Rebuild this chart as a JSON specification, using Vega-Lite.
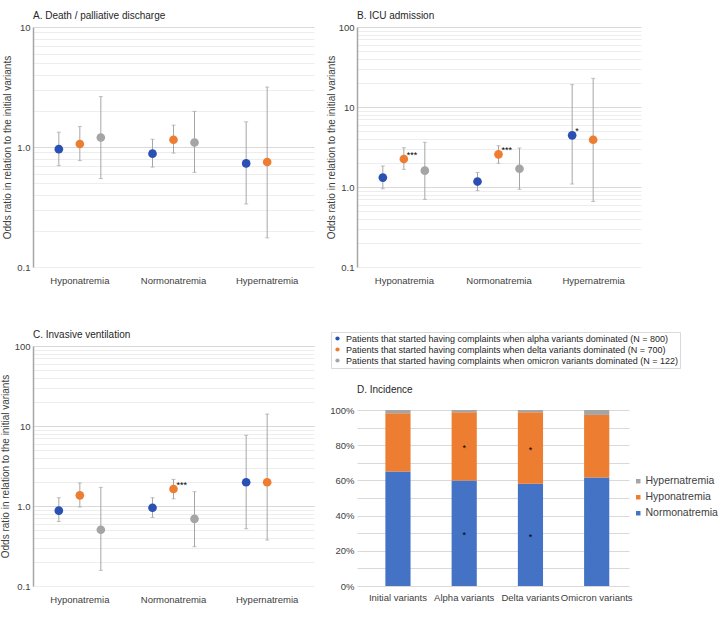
{
  "$schema": "https://vega.github.io/schema/vega-lite/v6.json",
  "padding": {"left": 0, "top": 11, "right": 5, "bottom": 5},
  "background": "white",
  "config": {
    "font": "Liberation Sans",
    "view": {"stroke": null},
    "title": {"fontSize": 10, "fontWeight": "normal", "color": "#262626", "anchor": "start", "frame": "group", "offset": 1},
    "axis": {"labelColor": "#404040", "titleColor": "#404040", "titleFontWeight": "normal"}
  },
  "datasets": {
    "odds": [
      {"panel": "A", "cat": "Hyponatremia", "variant": "alpha", "or": 0.96, "lo": 0.70, "hi": 1.33, "sig": null},
      {"panel": "A", "cat": "Hyponatremia", "variant": "delta", "or": 1.06, "lo": 0.77, "hi": 1.48, "sig": null},
      {"panel": "A", "cat": "Hyponatremia", "variant": "omicron", "or": 1.20, "lo": 0.545, "hi": 2.63, "sig": null},
      {"panel": "A", "cat": "Normonatremia", "variant": "alpha", "or": 0.88, "lo": 0.68, "hi": 1.16, "sig": null},
      {"panel": "A", "cat": "Normonatremia", "variant": "delta", "or": 1.15, "lo": 0.89, "hi": 1.52, "sig": null},
      {"panel": "A", "cat": "Normonatremia", "variant": "omicron", "or": 1.09, "lo": 0.615, "hi": 1.98, "sig": null},
      {"panel": "A", "cat": "Hypernatremia", "variant": "alpha", "or": 0.73, "lo": 0.335, "hi": 1.62, "sig": null},
      {"panel": "A", "cat": "Hypernatremia", "variant": "delta", "or": 0.75, "lo": 0.175, "hi": 3.16, "sig": null},
      {"panel": "B", "cat": "Hyponatremia", "variant": "alpha", "or": 1.31, "lo": 0.95, "hi": 1.83, "sig": null},
      {"panel": "B", "cat": "Hyponatremia", "variant": "delta", "or": 2.24, "lo": 1.66, "hi": 3.10, "sig": "***"},
      {"panel": "B", "cat": "Hyponatremia", "variant": "omicron", "or": 1.60, "lo": 0.70, "hi": 3.62, "sig": null},
      {"panel": "B", "cat": "Normonatremia", "variant": "alpha", "or": 1.17, "lo": 0.90, "hi": 1.52, "sig": null},
      {"panel": "B", "cat": "Normonatremia", "variant": "delta", "or": 2.56, "lo": 1.98, "hi": 3.28, "sig": "***"},
      {"panel": "B", "cat": "Normonatremia", "variant": "omicron", "or": 1.69, "lo": 0.935, "hi": 3.07, "sig": null},
      {"panel": "B", "cat": "Hypernatremia", "variant": "alpha", "or": 4.42, "lo": 1.09, "hi": 19.0, "sig": "*"},
      {"panel": "B", "cat": "Hypernatremia", "variant": "delta", "or": 3.90, "lo": 0.66, "hi": 22.8, "sig": null},
      {"panel": "C", "cat": "Hyponatremia", "variant": "alpha", "or": 0.875, "lo": 0.64, "hi": 1.27, "sig": null},
      {"panel": "C", "cat": "Hyponatremia", "variant": "delta", "or": 1.36, "lo": 0.97, "hi": 1.94, "sig": null},
      {"panel": "C", "cat": "Hyponatremia", "variant": "omicron", "or": 0.505, "lo": 0.157, "hi": 1.71, "sig": null},
      {"panel": "C", "cat": "Normonatremia", "variant": "alpha", "or": 0.95, "lo": 0.72, "hi": 1.27, "sig": null},
      {"panel": "C", "cat": "Normonatremia", "variant": "delta", "or": 1.63, "lo": 1.23, "hi": 2.15, "sig": "***"},
      {"panel": "C", "cat": "Normonatremia", "variant": "omicron", "or": 0.69, "lo": 0.31, "hi": 1.51, "sig": null},
      {"panel": "C", "cat": "Hypernatremia", "variant": "alpha", "or": 1.98, "lo": 0.52, "hi": 7.65, "sig": null},
      {"panel": "C", "cat": "Hypernatremia", "variant": "delta", "or": 1.98, "lo": 0.376, "hi": 14.1, "sig": null}
    ],
    "incidence": [
      {"period": "Initial variants", "status": "Normonatremia", "ord": 1, "pct": 0.651, "sig": null},
      {"period": "Initial variants", "status": "Hyponatremia", "ord": 2, "pct": 0.330, "sig": null},
      {"period": "Initial variants", "status": "Hypernatremia", "ord": 3, "pct": 0.019, "sig": null},
      {"period": "Alpha variants", "status": "Normonatremia", "ord": 1, "pct": 0.600, "sig": "*"},
      {"period": "Alpha variants", "status": "Hyponatremia", "ord": 2, "pct": 0.387, "sig": "*"},
      {"period": "Alpha variants", "status": "Hypernatremia", "ord": 3, "pct": 0.013, "sig": null},
      {"period": "Delta variants", "status": "Normonatremia", "ord": 1, "pct": 0.581, "sig": "*"},
      {"period": "Delta variants", "status": "Hyponatremia", "ord": 2, "pct": 0.406, "sig": "*"},
      {"period": "Delta variants", "status": "Hypernatremia", "ord": 3, "pct": 0.013, "sig": null},
      {"period": "Omicron variants", "status": "Normonatremia", "ord": 1, "pct": 0.617, "sig": null},
      {"period": "Omicron variants", "status": "Hyponatremia", "ord": 2, "pct": 0.355, "sig": null},
      {"period": "Omicron variants", "status": "Hypernatremia", "ord": 3, "pct": 0.028, "sig": null}
    ]
  },
  "resolve": {"scale": {"color": "independent"}, "legend": {"color": "independent"}},
  "spacing": 12,
  "hconcat": [
    {
      "resolve": {"scale": {"color": "independent"}, "legend": {"color": "independent"}},
      "spacing": 45,
      "vconcat": [
        {
          "title": {"text": "A. Death / palliative discharge"},
          "width": 281, "height": 240,
          "data": {"name": "odds"},
          "transform": [{"filter": "datum.panel == 'A'"}],
          "encoding": {
            "x": {"field": "cat", "type": "nominal", "sort": ["Hyponatremia", "Normonatremia", "Hypernatremia"], "scale": {"paddingInner": 0, "paddingOuter": 0}, "axis": {"title": null, "labelAngle": 0, "domain": false, "ticks": false, "labelFontSize": 9.5, "labelPadding": 8}},
            "xOffset": {"field": "variant", "type": "nominal", "scale": {"domain": ["alpha", "delta", "omicron"], "paddingInner": 0, "paddingOuter": 0.73}}
          },
          "layer": [
            {"mark": {"type": "rule", "color": "#a6a6a6", "strokeWidth": 1},
             "encoding": {
               "y": {"field": "lo", "type": "quantitative", "scale": {"type": "log", "domain": [0.1, 10]},
                 "axis": {"title": "Odds ratio in relation to the initial variants", "titleFontSize": 10, "titlePadding": 4,
                   "values": [0.1, 0.2, 0.3, 0.4, 0.5, 0.6, 0.7, 0.8, 0.9, 1, 2, 3, 4, 5, 6, 7, 8, 9, 10],
                   "labelExpr": "datum.value == 0.1 ? '0.1' : datum.value == 1 ? '1.0' : datum.value == 10 ? '10' : datum.value == 100 ? '100' : ''",
                   "labelOverlap": false, "labelFontSize": 9.5, "labelPadding": 3, "ticks": false,
                   "domainColor": "#a6a6a6", "domainWidth": 1.5,
                   "gridColor": {"condition": {"test": "datum.value == 1 || datum.value == 10", "value": "#d9d9d9"}, "value": "#ededed"}}},
               "y2": {"field": "hi"}}},
            {"mark": {"type": "tick", "color": "#a6a6a6", "size": 4, "thickness": 1}, "encoding": {"y": {"field": "lo", "type": "quantitative"}}},
            {"mark": {"type": "tick", "color": "#a6a6a6", "size": 4, "thickness": 1}, "encoding": {"y": {"field": "hi", "type": "quantitative"}}},
            {"mark": {"type": "circle", "size": 75, "opacity": 1},
             "encoding": {"y": {"field": "or", "type": "quantitative"},
               "color": {"field": "variant", "type": "nominal", "scale": {"domain": ["alpha", "delta", "omicron"], "range": ["#2b50b4", "#ed7d31", "#a5a5a5"]}, "legend": null}}}
          ]
        },
        {
          "title": {"text": "C. Invasive ventilation"},
          "width": 281, "height": 240,
          "data": {"name": "odds"},
          "transform": [{"filter": "datum.panel == 'C'"}],
          "encoding": {
            "x": {"field": "cat", "type": "nominal", "sort": ["Hyponatremia", "Normonatremia", "Hypernatremia"], "scale": {"paddingInner": 0, "paddingOuter": 0}, "axis": {"title": null, "labelAngle": 0, "domain": false, "ticks": false, "labelFontSize": 9.5, "labelPadding": 8}},
            "xOffset": {"field": "variant", "type": "nominal", "scale": {"domain": ["alpha", "delta", "omicron"], "paddingInner": 0, "paddingOuter": 0.73}}
          },
          "layer": [
            {"mark": {"type": "rule", "color": "#a6a6a6", "strokeWidth": 1},
             "encoding": {
               "y": {"field": "lo", "type": "quantitative", "scale": {"type": "log", "domain": [0.1, 100]},
                 "axis": {"title": "Odds ratio in relation to the initial variants", "titleFontSize": 10, "titlePadding": 4,
                   "values": [0.1, 0.2, 0.3, 0.4, 0.5, 0.6, 0.7, 0.8, 0.9, 1, 2, 3, 4, 5, 6, 7, 8, 9, 10, 20, 30, 40, 50, 60, 70, 80, 90, 100],
                   "labelExpr": "datum.value == 0.1 ? '0.1' : datum.value == 1 ? '1.0' : datum.value == 10 ? '10' : datum.value == 100 ? '100' : ''",
                   "labelOverlap": false, "labelFontSize": 9.5, "labelPadding": 3, "ticks": false,
                   "domainColor": "#a6a6a6", "domainWidth": 1.5,
                   "gridColor": {"condition": {"test": "datum.value == 1 || datum.value == 10 || datum.value == 100", "value": "#d9d9d9"}, "value": "#ededed"}}},
               "y2": {"field": "hi"}}},
            {"mark": {"type": "tick", "color": "#a6a6a6", "size": 4, "thickness": 1}, "encoding": {"y": {"field": "lo", "type": "quantitative"}}},
            {"mark": {"type": "tick", "color": "#a6a6a6", "size": 4, "thickness": 1}, "encoding": {"y": {"field": "hi", "type": "quantitative"}}},
            {"mark": {"type": "circle", "size": 75, "opacity": 1},
             "encoding": {"y": {"field": "or", "type": "quantitative"},
               "color": {"field": "variant", "type": "nominal", "scale": {"domain": ["alpha", "delta", "omicron"], "range": ["#2b50b4", "#ed7d31", "#a5a5a5"]}, "legend": null}}},
            {"transform": [{"filter": "datum.sig != null"}],
             "mark": {"type": "text", "align": "left", "baseline": "middle", "dx": 3, "dy": -4, "fontSize": 9, "color": "#000000"},
             "encoding": {"y": {"field": "or", "type": "quantitative"}, "text": {"field": "sig"}}}
          ]
        }
      ]
    },
    {
      "resolve": {"scale": {"color": "independent"}, "legend": {"color": "independent"}},
      "spacing": 16,
      "vconcat": [
        {
          "title": {"text": "B. ICU admission"},
          "width": 284, "height": 240,
          "data": {"name": "odds"},
          "transform": [{"filter": "datum.panel == 'B'"}],
          "encoding": {
            "x": {"field": "cat", "type": "nominal", "sort": ["Hyponatremia", "Normonatremia", "Hypernatremia"], "scale": {"paddingInner": 0, "paddingOuter": 0}, "axis": {"title": null, "labelAngle": 0, "domain": false, "ticks": false, "labelFontSize": 9.5, "labelPadding": 8}},
            "xOffset": {"field": "variant", "type": "nominal", "scale": {"domain": ["alpha", "delta", "omicron"], "paddingInner": 0, "paddingOuter": 0.73}}
          },
          "layer": [
            {"mark": {"type": "rule", "color": "#a6a6a6", "strokeWidth": 1},
             "encoding": {
               "y": {"field": "lo", "type": "quantitative", "scale": {"type": "log", "domain": [0.1, 100]},
                 "axis": {"title": "Odds ratio in relation to the initial variants", "titleFontSize": 10, "titlePadding": 2,
                   "values": [0.1, 0.2, 0.3, 0.4, 0.5, 0.6, 0.7, 0.8, 0.9, 1, 2, 3, 4, 5, 6, 7, 8, 9, 10, 20, 30, 40, 50, 60, 70, 80, 90, 100],
                   "labelExpr": "datum.value == 0.1 ? '0.1' : datum.value == 1 ? '1.0' : datum.value == 10 ? '10' : datum.value == 100 ? '100' : ''",
                   "labelOverlap": false, "labelFontSize": 9.5, "labelPadding": 3, "ticks": false,
                   "domainColor": "#a6a6a6", "domainWidth": 1.5,
                   "gridColor": {"condition": {"test": "datum.value == 1 || datum.value == 10 || datum.value == 100", "value": "#d9d9d9"}, "value": "#ededed"}}},
               "y2": {"field": "hi"}}},
            {"mark": {"type": "tick", "color": "#a6a6a6", "size": 4, "thickness": 1}, "encoding": {"y": {"field": "lo", "type": "quantitative"}}},
            {"mark": {"type": "tick", "color": "#a6a6a6", "size": 4, "thickness": 1}, "encoding": {"y": {"field": "hi", "type": "quantitative"}}},
            {"mark": {"type": "circle", "size": 75, "opacity": 1},
             "encoding": {"y": {"field": "or", "type": "quantitative"},
               "color": {"field": "variant", "type": "nominal", "scale": {"domain": ["alpha", "delta", "omicron"], "range": ["#2b50b4", "#ed7d31", "#a5a5a5"]},
                 "legend": {"orient": "none", "legendX": -26, "legendY": 305, "title": null, "direction": "vertical",
                   "labelExpr": "datum.value == 'alpha' ? 'Patients that started having complaints when alpha variants dominated (N = 800)' : datum.value == 'delta' ? 'Patients that started having complaints when delta variants dominated (N = 700)' : 'Patients that started having complaints when omicron variants dominated (N = 122)'",
                   "symbolType": "circle", "symbolSize": 18, "labelFontSize": 9, "labelLimit": 0, "labelColor": "#262626",
                   "strokeColor": "#d9d9d9", "fillColor": "white", "padding": 2, "rowPadding": 1, "labelOffset": 4}}}},
            {"transform": [{"filter": "datum.sig != null"}],
             "mark": {"type": "text", "align": "left", "baseline": "middle", "dx": 3, "dy": -4, "fontSize": 9, "color": "#000000"},
             "encoding": {"y": {"field": "or", "type": "quantitative"}, "text": {"field": "sig"}}}
          ]
        },
        {
          "title": {"text": "D. Incidence", "offset": 10},
          "width": 272, "height": 176,
          "data": {"name": "incidence"},
          "encoding": {
            "x": {"field": "period", "type": "nominal", "sort": ["Initial variants", "Alpha variants", "Delta variants", "Omicron variants"], "scale": {"paddingInner": 0.62, "paddingOuter": 0.363, "align": 0.59},
              "axis": {"title": null, "labelAngle": 0, "domain": false, "ticks": false, "labelFontSize": 9.5, "labelPadding": 6}}
          },
          "layer": [
            {"mark": {"type": "bar"},
             "encoding": {
               "y": {"field": "pct", "type": "quantitative", "stack": "zero", "scale": {"domain": [0, 1]},
                 "axis": {"title": null, "values": [0, 0.1, 0.2, 0.3, 0.4, 0.5, 0.6, 0.7, 0.8, 0.9, 1],
                   "labelExpr": "indexof([0, 0.2, 0.4, 0.6, 0.8, 1], datum.value) >= 0 ? format(datum.value, '.0%') : ''",
                   "labelOverlap": false, "labelFontSize": 9.5, "labelPadding": 3, "domain": false, "ticks": false, "gridColor": "#d9d9d9"}},
               "color": {"field": "status", "type": "nominal",
                 "scale": {"domain": ["Hypernatremia", "Hyponatremia", "Normonatremia"], "range": ["#a5a5a5", "#ed7d31", "#4472c4"]},
                 "legend": {"orient": "none", "legendX": 276, "legendY": 66, "title": null, "symbolType": "square", "symbolSize": 20,
                   "labelFontSize": 10.5, "labelColor": "#404040", "rowPadding": 5, "padding": 0, "labelOffset": 2}},
               "order": {"field": "ord", "type": "quantitative"}}},
            {"transform": [
               {"stack": "pct", "groupby": ["period"], "sort": [{"field": "ord", "order": "ascending"}], "as": ["y0", "y1"]},
               {"filter": "datum.sig != null"},
               {"calculate": "(datum.y0 + datum.y1) / 2", "as": "mid"}],
             "mark": {"type": "text", "fontSize": 9, "color": "#000000", "baseline": "middle", "dy": 2},
             "encoding": {"y": {"field": "mid", "type": "quantitative",
                 "axis": {"title": null, "values": [0, 0.1, 0.2, 0.3, 0.4, 0.5, 0.6, 0.7, 0.8, 0.9, 1],
                   "labelExpr": "indexof([0, 0.2, 0.4, 0.6, 0.8, 1], datum.value) >= 0 ? format(datum.value, '.0%') : ''",
                   "labelOverlap": false, "labelFontSize": 9.5, "labelPadding": 3, "domain": false, "ticks": false, "gridColor": "#d9d9d9"}},
               "text": {"field": "sig"}}}
          ]
        }
      ]
    }
  ]
}
